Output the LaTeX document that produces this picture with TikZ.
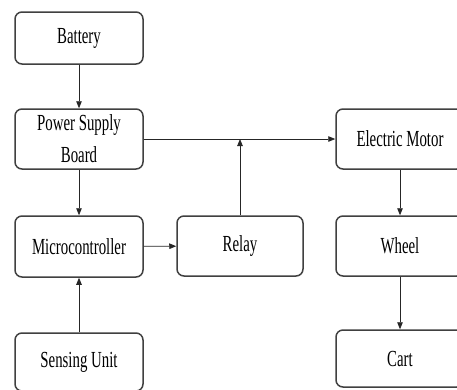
\documentclass[tikz,border=0pt]{standalone}
\usepackage{fontspec}
\setmainfont[FakeStretch=0.645]{Liberation Serif}
\usetikzlibrary{arrows.meta}
\begin{document}
\begin{tikzpicture}[x=1pt,y=-1pt,
  box/.style={draw=black!75, line width=1.5pt, rounded corners=7pt, fill=white,
    inner sep=0pt, align=center, font=\fontsize{23}{32}\selectfont,
    minimum width=128pt, minimum height=60pt},
  conn/.style={draw=black!85, line width=0.8pt, -{Triangle[length=7pt,width=5.5pt]}}]
\useasboundingbox (0,0) rectangle (457,389);
\clip (0,0) rectangle (457,389);
\fill[white] (0,0) rectangle (457,389);
\node[box, minimum height=52pt] (bat) at (79,38) {Battery};
\node[box] (psb) at (79,139) {Power Supply\\Board};
\node[box, minimum height=61pt] (mcu) at (79,246.5) {Microcontroller};
\node[box, minimum height=58pt] (sen) at (79,362) {Sensing Unit};
\node[box, minimum width=126pt] (rel) at (240,246) {Relay};
\node[box] (em) at (400,139) {Electric Motor};
\node[box] (wh) at (400,246) {Wheel};
\node[box, minimum height=57pt] (cart) at (400,358.5) {Cart};
\coordinate (j) at (rel.north |- psb.east);
\draw[conn] (bat) -- (psb);
\draw[conn] (psb) -- (mcu);
\draw[conn] (sen) -- (mcu);
\draw[conn] (mcu) -- (rel);
\draw[conn] (psb.east) -- (em.west);
\draw[conn] (rel.north) -- (j);
\draw[conn] (em) -- (wh);
\draw[conn] (wh) -- (cart);
\end{tikzpicture}
\end{document}
